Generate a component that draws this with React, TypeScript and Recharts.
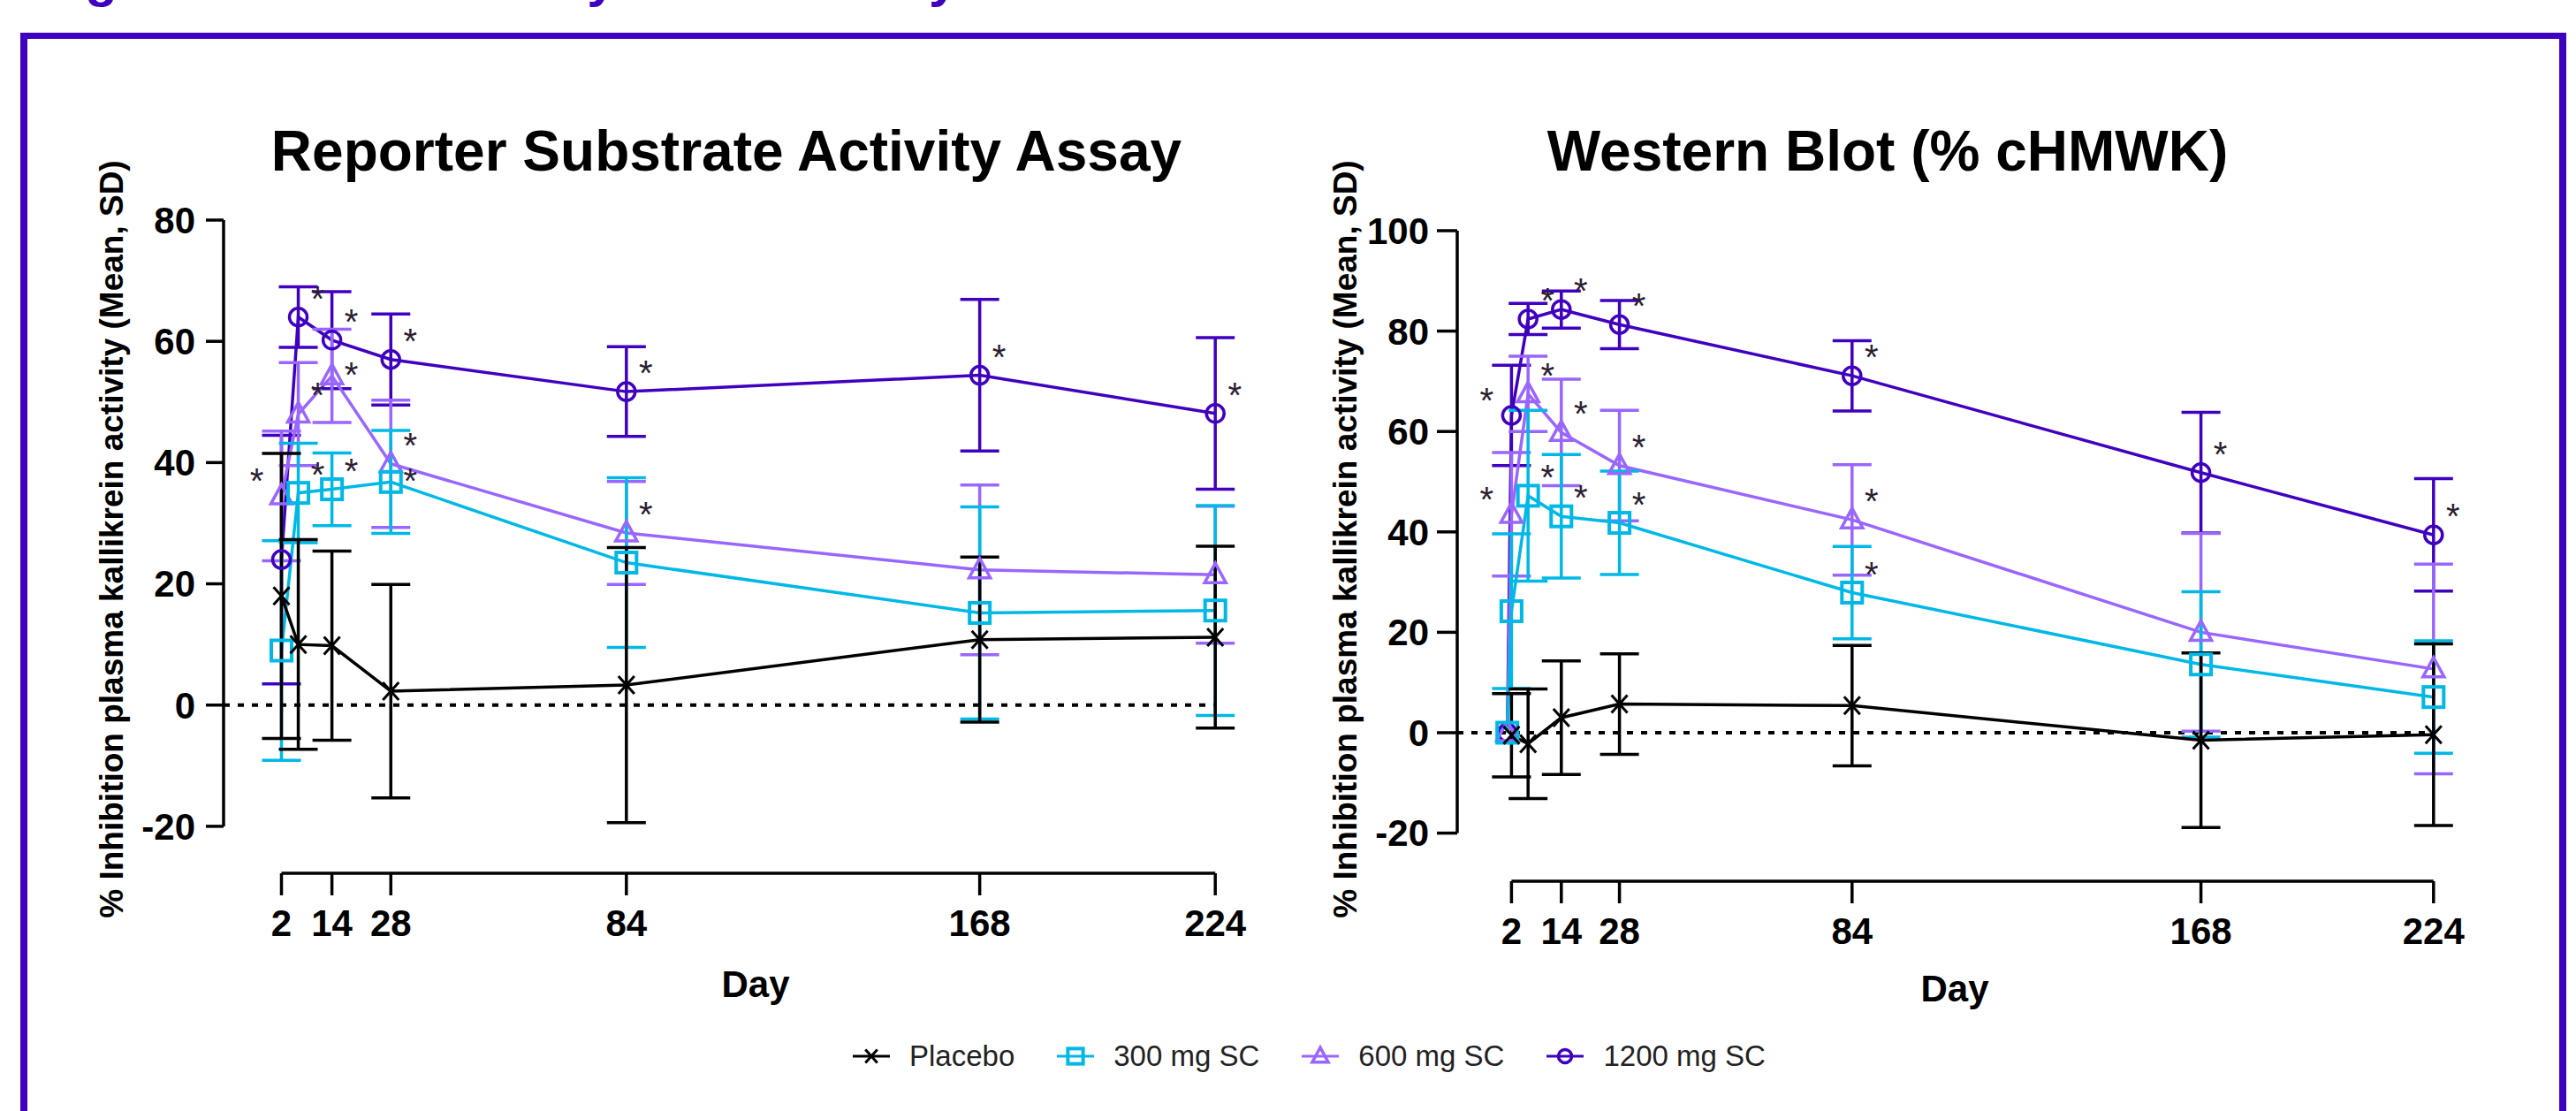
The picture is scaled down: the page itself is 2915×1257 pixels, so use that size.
import React from "react";
import { LineChart, Line, XAxis, YAxis, ErrorBar, ReferenceLine } from "recharts";

const FONT = "'Liberation Sans', Arial, Helvetica, sans-serif";
const PURPLE = "#4000BF";

// series, in draw order (placebo drawn last, on top)
const seriesNames = ["1200 mg SC", "600 mg SC", "300 mg SC", "Placebo"];
const seriesColors = ["#4000BF", "#9966FF", "#00B8E6", "#000000"];
const seriesShapes = ["circle", "triangle", "square", "x"];

const dayTicks = [2, 14, 28, 84, 168, 224];

// Reporter Substrate Activity Assay
const leftDays = [2, 6, 14, 28, 84, 168, 224];
const left1200 = [24, 64, 60.2, 57, 51.7, 54.4, 48.1];
const left1200Sd = [20.5, 5, 8, 7.5, 7.4, 12.5, 12.5];
const left1200Sig = [0, 1, 1, 1, 1, 1, 1];
const left600 = [34.5, 48, 54.3, 39.8, 28.4, 22.3, 21.5];
const left600Sd = [10.7, 8.5, 7.7, 10.5, 8.5, 14, 11.3];
const left600Sig = [1, 1, 1, 1, 1, 0, 0];
const left300 = [9, 35, 35.6, 36.8, 23.5, 15.2, 15.6];
const left300Sd = [18.1, 8.2, 6, 8.5, 14, 17.5, 17.3];
const left300Sig = [0, 1, 1, 1, 0, 0, 0];
const leftPlacebo = [18, 10, 9.8, 2.3, 3.3, 10.8, 11.2];
const leftPlaceboSd = [23.5, 17.3, 15.6, 17.6, 22.7, 13.6, 15];
const leftTicks = [-20, 0, 20, 40, 60, 80];

// Western Blot (% cHMWK)
const rightDays = [1, 2, 6, 14, 28, 84, 168, 224];
const right1200 = [0, 63.2, 82.4, 84.3, 81.3, 71.1, 51.8, 39.4];
const right1200Sd = [0, 10, 3.1, 3.7, 4.8, 7, 12, 11.2];
const right1200Sig = [0, 1, 1, 1, 1, 1, 1, 1];
const right600 = [0, 43.5, 67.5, 59.8, 53.2, 42.4, 20, 12.7];
const right600Sd = [0, 12.3, 7.5, 10.6, 11, 11, 19.7, 20.9];
const right600Sig = [0, 1, 1, 1, 1, 1, 0, 0];
const right300 = [0, 24.2, 47.2, 43.1, 41.8, 27.9, 13.6, 7.1];
const right300Sd = [0, 15.4, 17, 12.3, 10.3, 9.2, 14.5, 11.2];
const right300Sig = [0, 0, 1, 1, 1, 1, 0, 0];
const rightPlacebo = [null, -0.5, -2.2, 3, 5.7, 5.4, -1.5, -0.4];
const rightPlaceboSd = [null, 8.3, 10.9, 11.3, 10, 12, 17.4, 18.1];
const rightTicks = [-20, 0, 20, 40, 60, 80, 100];

// asterisks that sit lower, beside the symbol (styling only)
const lowStars = ["l-1-14", "l-2-28"];

type Pt = { day: number; value: number; sd: number; sig: number };

function toPoints(days: number[], vals: (number | null)[], sds: (number | null)[], sig?: number[]): Pt[] {
  const out: Pt[] = [];
  days.forEach((d, i) => {
    const v = vals[i];
    if (v == null) return;
    out.push({ day: d, value: v, sd: sds[i] || 0, sig: sig ? sig[i] : 0 });
  });
  return out;
}

const leftSeries = [
  toPoints(leftDays, left1200, left1200Sd, left1200Sig),
  toPoints(leftDays, left600, left600Sd, left600Sig),
  toPoints(leftDays, left300, left300Sd, left300Sig),
  toPoints(leftDays, leftPlacebo, leftPlaceboSd),
];
const rightSeries = [
  toPoints(rightDays, right1200, right1200Sd, right1200Sig),
  toPoints(rightDays, right600, right600Sd, right600Sig),
  toPoints(rightDays, right300, right300Sd, right300Sig),
  toPoints(rightDays, rightPlacebo, rightPlaceboSd),
];

function Marker({ shape, cx, cy, color, s = 1 }: any) {
  if (shape === "circle")
    return <circle cx={cx} cy={cy} r={10 * s} fill="none" stroke={color} strokeWidth={3.5} />;
  if (shape === "square")
    return <rect x={cx - 11.5 * s} y={cy - 11.5 * s} width={23 * s} height={23 * s} fill="none" stroke={color} strokeWidth={4} />;
  if (shape === "triangle")
    return (
      <polygon
        points={`${cx},${cy - 13 * s} ${cx - 12 * s},${cy + 9 * s} ${cx + 12 * s},${cy + 9 * s}`}
        fill="none"
        stroke={color}
        strokeWidth={3.5}
      />
    );
  return (
    <g stroke={color} strokeWidth={3}>
      <line x1={cx - 9 * s} y1={cy - 10 * s} x2={cx + 9 * s} y2={cy + 10 * s} />
      <line x1={cx - 9 * s} y1={cy + 10 * s} x2={cx + 9 * s} y2={cy - 10 * s} />
    </g>
  );
}

const makeDot = (shape: string, color: string, name: string) => (props: any) => {
  const { cx, cy, payload, index } = props;
  const key = `${name}-${index}`;
  if (cx == null || cy == null || isNaN(cx) || isNaN(cy)) return <g key={key} />;
  const early = payload && payload.day <= 2;
  const low = payload && lowStars.includes(`${name}-${payload.day}`);
  const sx = early ? cx - 28 : cx + 22;
  const sy = early ? cy - 3 : low ? cy + 13 : cy - 7;
  return (
    <g key={key}>
      <Marker shape={shape} cx={cx} cy={cy} color={color} />
      {payload && payload.sig ? (
        <text x={sx} y={sy} textAnchor="middle" fontSize={40} fontFamily={FONT} fill="#2a2030">
          *
        </text>
      ) : null}
    </g>
  );
};

function Panel({ series, width, height, margin, xMin, yMin, yMax, yTicks, yTickSize, yTickMargin, prefix }: any) {
  const axisStroke = { stroke: "#000", strokeWidth: 3.5 };
  return (
    <LineChart width={width} height={height} margin={margin}>
      <XAxis
        type="number"
        dataKey="day"
        domain={[xMin, 224]}
        ticks={dayTicks}
        interval={0}
        axisLine={false}
        tickLine={axisStroke}
        tickSize={25}
        tickMargin={16}
        height={100}
        tick={{ fill: "#000", fontSize: 42, fontWeight: 700, fontFamily: FONT }}
      />
      <YAxis
        type="number"
        domain={[yMin, yMax]}
        ticks={yTicks}
        interval={0}
        axisLine={false}
        tickLine={axisStroke}
        tickSize={yTickSize}
        tickMargin={yTickMargin}
        width={120}
        tick={{ fill: "#000", fontSize: 42, fontWeight: 700, fontFamily: FONT }}
      />
      <ReferenceLine
        segment={[{ x: xMin, y: 0 }, { x: 224, y: 0 }]}
        stroke="#000"
        strokeWidth={4}
        strokeDasharray="7 9"
        ifOverflow="visible"
      />
      <ReferenceLine
        segment={[{ x: xMin, y: yTicks[0] }, { x: xMin, y: yMax }]}
        stroke="#000"
        strokeWidth={3.5}
        ifOverflow="visible"
      />
      <ReferenceLine
        segment={[{ x: dayTicks[0], y: yMin }, { x: 224, y: yMin }]}
        stroke="#000"
        strokeWidth={3.5}
        ifOverflow="visible"
      />
      {series.map((pts: Pt[], i: number) => (
        <Line
          key={`${prefix}-${i}`}
          data={pts}
          dataKey="value"
          name={seriesNames[i]}
          stroke={seriesColors[i]}
          strokeWidth={3.5}
          dot={makeDot(seriesShapes[i], seriesColors[i], `${prefix}-${i}`)}
          activeDot={false}
          isAnimationActive={false}
        >
          <ErrorBar dataKey="sd" width={22} strokeWidth={3.5} stroke={seriesColors[i]} direction="y" />
        </Line>
      ))}
    </LineChart>
  );
}

function Legend() {
  const order = [3, 2, 1, 0];
  return (
    <div
      style={{
        position: "absolute",
        left: 965,
        top: 1175,
        display: "flex",
        alignItems: "center",
        fontFamily: FONT,
        fontSize: 33,
        color: "#222",
      }}
    >
      {order.map((i) => (
        <div key={i} style={{ display: "flex", alignItems: "center", marginRight: 48 }}>
          <svg width={42} height={40} style={{ marginRight: 22 }}>
            <line x1={0} y1={20} x2={42} y2={20} stroke={seriesColors[i]} strokeWidth={3} />
            <Marker shape={seriesShapes[i]} cx={21} cy={20} color={seriesColors[i]} s={0.75} />
          </svg>
          <span>{seriesNames[i]}</span>
        </div>
      ))}
    </div>
  );
}

export default function App() {
  const yLabel = "% Inhibition plasma kallikrein activity (Mean, SD)";
  return (
    <div style={{ position: "fixed", left: 0, top: 0, width: 2915, height: 1257, overflow: "hidden", background: "#fff" }}>
      <div
        style={{
          position: "absolute",
          left: 23,
          top: 37,
          width: 2881,
          height: 1400,
          boxSizing: "border-box",
          borderTop: `7px solid ${PURPLE}`,
          borderLeft: `8px solid ${PURPLE}`,
          borderRight: `8px solid ${PURPLE}`,
        }}
      />
      <div style={{ position: "absolute", left: 0, top: 0 }}>
        <Panel
          prefix="l"
          series={leftSeries}
          width={1440}
          height={1150}
          margin={{ top: 249, right: 64.8, bottom: 62, left: 133 }}
          xMin={-11.76}
          yMin={-27.74}
          yMax={80}
          yTicks={leftTicks}
          yTickSize={20}
          yTickMargin={12}
        />
      </div>
      <div style={{ position: "absolute", left: 1440, top: 0 }}>
        <Panel
          prefix="r"
          series={rightSeries}
          width={1475}
          height={1150}
          margin={{ top: 261, right: 161.2, bottom: 53, left: 89 }}
          xMin={-11.06}
          yMin={-29.58}
          yMax={100}
          yTicks={rightTicks}
          yTickSize={23}
          yTickMargin={9}
        />
      </div>
      <svg width={2915} height={1257} style={{ position: "absolute", left: 0, top: 0, pointerEvents: "none" }}>
        <text x={43} y={-4} fontSize={60} fontWeight={700} fontFamily={FONT} fill={PURPLE}>
          Figure 3: Mean Activity of Plasma by Method
        </text>
        <g fontFamily={FONT} fontWeight={700} fill="#000" textAnchor="middle">
          <text x={822} y={193} fontSize={64}>Reporter Substrate Activity Assay</text>
          <text x={2136} y={193} fontSize={64}>Western Blot (% cHMWK)</text>
          <text x={126} y={610} fontSize={37} dominantBaseline="central" transform="rotate(-90 126 610)">
            {yLabel}
          </text>
          <text x={1522} y={610} fontSize={37} dominantBaseline="central" transform="rotate(-90 1522 610)">
            {yLabel}
          </text>
          <text x={855} y={1128} fontSize={42}>Day</text>
          <text x={2212} y={1133} fontSize={42}>Day</text>
        </g>
      </svg>
      <Legend />
    </div>
  );
}
